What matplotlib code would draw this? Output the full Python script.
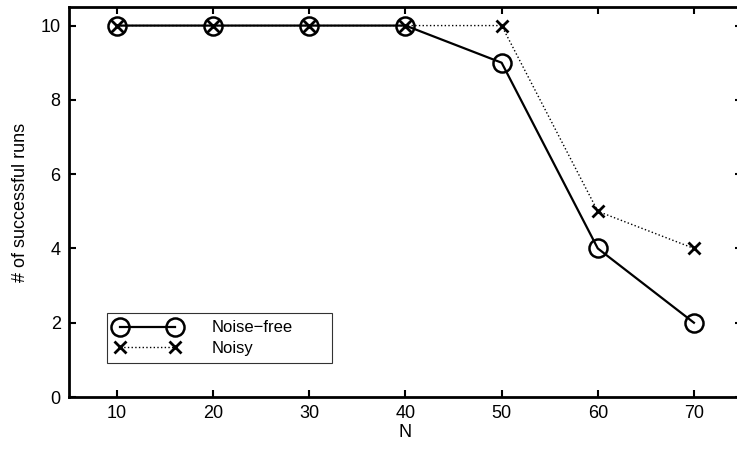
import numpy as np
import matplotlib.pyplot as plt

plt.rcParams['font.family'] = ['Liberation Sans', 'DejaVu Sans']

N = [10, 20, 30, 40, 50, 60, 70]
noise_free = [10, 10, 10, 10, 9, 4, 2]
noisy = [10, 10, 10, 10, 10, 5, 4]

fig = plt.figure(figsize=(7.37, 4.5), dpi=100)
ax = fig.add_axes([69/737, 1 - 397/450, (742 - 69)/737, (397 - 7)/450])

ax.plot(N, noise_free, '-', color='black', lw=1.6, marker='o', ms=13,
        mfc='none', mec='black', mew=1.8, label='Noise\u2212free')
ax.plot(N, noisy, ':', color='black', lw=1.0, marker='x', ms=9,
        mec='black', mew=2, label='Noisy')

ax.set_xlim(5, 75)
ax.set_ylim(0, 10.5)
ax.set_xticks(N)
ax.set_yticks([0, 2, 4, 6, 8, 10])
ax.tick_params(direction='in', top=True, right=True, length=5, width=1.5,
               labelsize=13, pad=6)
for s in ax.spines.values():
    s.set_linewidth(2)
ax.set_xlabel('N', fontsize=13, labelpad=1)
ax.set_ylabel('# of successful runs', fontsize=13, labelpad=8)

leg = ax.legend(loc='lower left', bbox_to_anchor=(38/673, 34/390, 225/673, 0.1),
                mode='expand', fontsize=12, frameon=True, fancybox=False,
                edgecolor='black', numpoints=2, handlelength=3.9,
                labelspacing=0.3, borderpad=0.45, handletextpad=1.9,
                borderaxespad=0)
leg.get_frame().set_linewidth(0.8)

fig.savefig('out.png', dpi=100)
